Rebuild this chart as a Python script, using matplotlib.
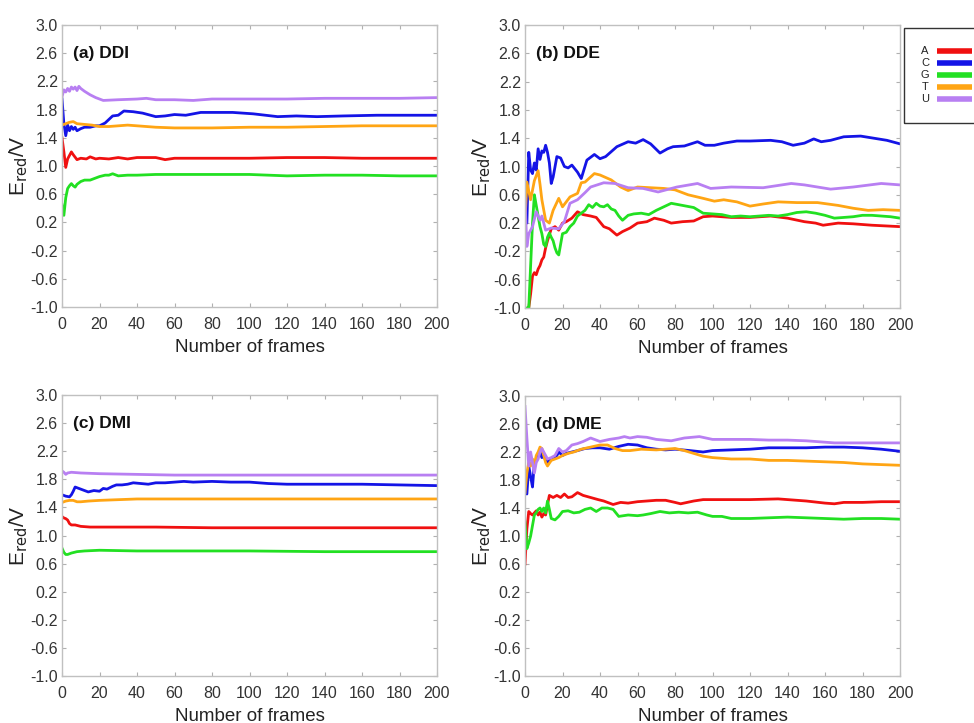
import matplotlib
matplotlib.use("Agg")
import matplotlib.pyplot as plt
from matplotlib.lines import Line2D
from matplotlib.patches import Rectangle

plt.rcParams['font.family'] = ['Liberation Sans', 'DejaVu Sans']

bases = ['A', 'C', 'G', 'T', 'U']
colors = {'A': '#f01010', 'C': '#1414e6', 'G': '#22e022', 'T': '#ffa514', 'U': '#b87ff2'}

# (a) DDI
ddi_A_x = [0,1,2,3,5,6,8,10,13,15,18,20,25,30,35,40,50,55,60,80,100,120,140,160,180,200]
ddi_A_y = [1.40,1.20,0.98,1.10,1.20,1.16,1.09,1.11,1.10,1.13,1.10,1.11,1.10,1.12,1.10,1.12,1.12,1.09,1.11,1.11,1.11,1.12,1.12,1.11,1.11,1.11]
ddi_C_x = [0,1,2,3,4,5,6,7,8,10,12,15,18,20,23,27,30,33,38,43,50,55,60,66,74,80,91,102,115,125,136,150,168,185,200]
ddi_C_y = [1.95,1.60,1.43,1.58,1.50,1.56,1.52,1.55,1.50,1.53,1.55,1.55,1.57,1.57,1.61,1.71,1.72,1.78,1.77,1.75,1.70,1.71,1.73,1.72,1.76,1.76,1.76,1.74,1.70,1.71,1.70,1.71,1.72,1.72,1.72]
ddi_G_x = [0,1,2,3,4,5,6,7,8,10,12,15,18,20,23,25,27,30,35,40,50,60,80,100,120,140,160,180,200]
ddi_G_y = [0.45,0.30,0.55,0.68,0.72,0.75,0.72,0.70,0.74,0.78,0.80,0.80,0.83,0.85,0.87,0.87,0.89,0.86,0.87,0.87,0.88,0.88,0.88,0.88,0.86,0.87,0.87,0.86,0.86]
ddi_T_x = [0,2,4,6,8,12,16,20,25,30,35,40,50,60,80,100,120,140,160,180,200]
ddi_T_y = [1.58,1.60,1.62,1.63,1.60,1.59,1.58,1.56,1.56,1.57,1.58,1.57,1.55,1.54,1.54,1.55,1.55,1.56,1.57,1.57,1.57]
ddi_U_x = [0,1,2,3,4,5,6,7,8,9,10,12,15,18,22,30,40,45,50,60,70,80,100,120,140,160,180,200]
ddi_U_y = [1.98,2.08,2.05,2.10,2.06,2.12,2.09,2.12,2.07,2.13,2.10,2.06,2.01,1.97,1.93,1.94,1.95,1.96,1.94,1.94,1.93,1.95,1.95,1.95,1.96,1.96,1.96,1.97]

# (b) DDE
dde_A_x = [2,3,4,5,6,7,8,9,10,11,12,14,16,18,20,22,25,28,31,35,38,42,45,49,52,56,60,65,69,74,78,84,90,95,100,110,120,131,140,149,155,159,167,175,185,200]
dde_A_y = [-1.00,-0.80,-0.55,-0.50,-0.53,-0.45,-0.40,-0.32,-0.28,-0.15,-0.05,0.12,0.15,0.10,0.20,0.22,0.27,0.36,0.32,0.30,0.28,0.15,0.12,0.03,0.08,0.13,0.20,0.22,0.27,0.24,0.20,0.22,0.23,0.29,0.30,0.28,0.28,0.30,0.27,0.22,0.20,0.17,0.20,0.19,0.17,0.15]
dde_C_x = [0,1,2,3,4,5,6,7,8,9,10,11,12,13,14,15,17,19,21,23,25,28,30,33,37,40,43,46,49,55,59,63,67,72,76,79,85,92,96,101,106,113,120,131,137,143,149,154,158,163,170,179,186,193,200]
dde_C_y = [0.75,0.20,1.20,0.95,0.90,1.05,0.95,1.25,1.10,1.22,1.20,1.30,1.20,1.05,0.76,0.85,1.14,1.12,1.00,0.98,1.02,0.92,0.83,1.09,1.17,1.11,1.14,1.21,1.28,1.35,1.33,1.38,1.32,1.19,1.25,1.28,1.29,1.35,1.30,1.30,1.33,1.36,1.36,1.37,1.35,1.30,1.33,1.39,1.35,1.37,1.42,1.43,1.40,1.37,1.32]
dde_G_x = [1,2,3,4,5,6,7,8,9,10,11,12,13,14,15,16,17,18,19,20,22,24,26,28,30,32,34,36,38,40,42,44,46,48,50,52,55,58,62,66,70,74,78,82,86,90,95,100,105,110,115,120,125,130,135,140,145,150,155,160,165,170,175,180,185,190,195,200]
dde_G_y = [-1.0,-1.0,-0.40,0.20,0.60,0.45,0.30,0.15,0.05,-0.10,-0.13,0.00,0.06,0.00,-0.05,-0.15,-0.22,-0.25,-0.10,0.05,0.07,0.15,0.20,0.30,0.34,0.38,0.46,0.42,0.48,0.44,0.43,0.46,0.40,0.38,0.30,0.24,0.31,0.33,0.34,0.32,0.38,0.43,0.48,0.46,0.44,0.42,0.34,0.33,0.32,0.29,0.30,0.29,0.30,0.31,0.30,0.32,0.35,0.36,0.34,0.31,0.27,0.28,0.29,0.31,0.31,0.30,0.29,0.27]
dde_T_x = [0,1,3,5,7,8,9,11,13,15,18,20,24,28,30,32,37,40,46,51,55,60,67,74,80,87,95,101,106,113,120,127,135,145,156,167,175,183,191,200]
dde_T_y = [0.22,0.78,0.53,0.80,0.94,0.75,0.53,0.24,0.20,0.38,0.55,0.43,0.57,0.62,0.77,0.78,0.90,0.88,0.81,0.71,0.66,0.71,0.70,0.69,0.67,0.60,0.55,0.51,0.53,0.50,0.44,0.47,0.50,0.49,0.49,0.45,0.41,0.38,0.39,0.38]
dde_U_x = [0,1,2,4,6,8,9,11,14,18,21,24,28,32,35,42,48,55,63,71,81,92,99,110,127,142,149,163,175,190,200]
dde_U_y = [0.55,-0.13,0.05,0.15,0.36,0.24,0.30,0.10,0.13,0.12,0.22,0.48,0.53,0.63,0.71,0.77,0.76,0.70,0.69,0.64,0.71,0.76,0.69,0.71,0.70,0.76,0.74,0.68,0.71,0.76,0.74]

# (c) DMI
dmi_A_x = [0,1,2,3,4,5,7,10,15,20,30,50,80,100,130,160,200]
dmi_A_y = [1.27,1.25,1.24,1.22,1.17,1.15,1.15,1.13,1.12,1.12,1.12,1.12,1.11,1.11,1.11,1.11,1.11]
dmi_C_x = [0,2,4,5,6,7,9,11,14,17,20,22,24,27,29,32,35,38,42,46,50,55,60,65,70,80,90,100,110,120,140,160,180,200]
dmi_C_y = [1.58,1.56,1.55,1.58,1.63,1.69,1.67,1.65,1.62,1.64,1.63,1.67,1.66,1.70,1.72,1.72,1.73,1.75,1.74,1.73,1.75,1.75,1.76,1.77,1.76,1.77,1.76,1.76,1.74,1.73,1.73,1.73,1.72,1.71]
dmi_G_x = [0,1,2,3,5,8,12,20,40,60,100,140,200]
dmi_G_y = [0.82,0.76,0.73,0.73,0.75,0.77,0.78,0.79,0.78,0.78,0.78,0.77,0.77]
dmi_T_x = [0,2,4,6,8,10,14,20,30,40,60,100,140,200]
dmi_T_y = [1.47,1.49,1.50,1.50,1.48,1.48,1.49,1.50,1.51,1.52,1.52,1.52,1.52,1.52]
dmi_U_x = [0,1,2,3,5,10,20,40,60,100,150,200]
dmi_U_y = [1.92,1.90,1.87,1.89,1.90,1.89,1.88,1.87,1.86,1.86,1.86,1.86]

# (d) DME
dme_A_x = [0,1,2,3,4,5,6,7,8,9,10,11,12,13,15,17,19,21,23,25,28,31,35,39,42,47,51,55,60,65,70,75,80,83,90,95,110,120,135,150,160,165,170,180,190,200]
dme_A_y = [0.60,1.10,1.35,1.32,1.30,1.33,1.36,1.30,1.34,1.27,1.32,1.30,1.45,1.58,1.55,1.58,1.55,1.60,1.55,1.56,1.62,1.58,1.55,1.52,1.50,1.45,1.48,1.47,1.49,1.50,1.51,1.51,1.48,1.46,1.50,1.52,1.52,1.52,1.53,1.50,1.47,1.46,1.48,1.48,1.49,1.49]
dme_C_x = [0,1,2,3,4,5,6,7,8,9,10,11,12,13,15,17,18,20,22,25,28,32,36,40,45,50,55,60,65,70,75,80,88,95,100,110,120,130,140,150,160,170,180,190,200]
dme_C_y = [1.65,1.60,2.00,1.85,1.70,2.05,2.10,2.15,2.20,2.12,2.15,2.08,2.05,2.08,2.10,2.15,2.20,2.15,2.18,2.20,2.22,2.25,2.26,2.26,2.24,2.28,2.31,2.30,2.26,2.24,2.23,2.24,2.22,2.20,2.22,2.23,2.24,2.26,2.26,2.26,2.27,2.27,2.26,2.24,2.21]
dme_G_x = [0,1,2,3,4,5,6,7,8,9,10,11,12,13,14,16,18,20,23,26,29,32,35,38,41,44,47,50,55,60,63,67,72,77,82,87,92,97,100,105,110,120,130,140,150,160,170,180,190,200]
dme_G_y = [1.20,0.82,0.90,1.00,1.15,1.30,1.33,1.38,1.40,1.35,1.40,1.33,1.50,1.38,1.25,1.23,1.28,1.35,1.36,1.33,1.34,1.38,1.40,1.35,1.40,1.40,1.38,1.28,1.30,1.29,1.30,1.32,1.35,1.33,1.34,1.33,1.34,1.30,1.28,1.28,1.25,1.25,1.26,1.27,1.26,1.25,1.24,1.25,1.25,1.24]
dme_T_x = [0,1,2,3,4,5,6,7,8,9,10,11,12,14,16,18,20,23,26,30,35,40,44,48,52,56,62,70,80,85,90,95,100,110,120,130,140,150,160,170,180,190,200]
dme_T_y = [1.62,1.90,2.05,2.00,2.10,2.02,2.15,2.20,2.27,2.25,2.15,2.05,2.00,2.08,2.10,2.12,2.15,2.18,2.20,2.24,2.27,2.30,2.30,2.25,2.22,2.22,2.24,2.23,2.25,2.22,2.18,2.14,2.12,2.10,2.10,2.08,2.08,2.07,2.06,2.05,2.03,2.02,2.01]
dme_U_x = [0,1,2,3,4,5,6,7,8,9,10,12,14,16,18,20,22,25,28,31,35,40,45,50,53,56,60,65,70,78,85,93,100,110,120,130,140,150,160,165,170,180,190,200]
dme_U_y = [2.85,2.40,2.00,2.20,2.05,1.90,2.05,2.10,2.20,2.25,2.20,2.10,2.12,2.15,2.25,2.20,2.22,2.30,2.32,2.35,2.40,2.35,2.38,2.40,2.42,2.40,2.42,2.41,2.38,2.36,2.40,2.42,2.38,2.38,2.38,2.37,2.37,2.36,2.34,2.33,2.33,2.33,2.33,2.33]

panels = [
    ("(a) DDI", {'A': (ddi_A_x, ddi_A_y), 'C': (ddi_C_x, ddi_C_y), 'G': (ddi_G_x, ddi_G_y), 'T': (ddi_T_x, ddi_T_y), 'U': (ddi_U_x, ddi_U_y)}),
    ("(b) DDE", {'A': (dde_A_x, dde_A_y), 'C': (dde_C_x, dde_C_y), 'G': (dde_G_x, dde_G_y), 'T': (dde_T_x, dde_T_y), 'U': (dde_U_x, dde_U_y)}),
    ("(c) DMI", {'A': (dmi_A_x, dmi_A_y), 'C': (dmi_C_x, dmi_C_y), 'G': (dmi_G_x, dmi_G_y), 'T': (dmi_T_x, dmi_T_y), 'U': (dmi_U_x, dmi_U_y)}),
    ("(d) DME", {'A': (dme_A_x, dme_A_y), 'C': (dme_C_x, dme_C_y), 'G': (dme_G_x, dme_G_y), 'T': (dme_T_x, dme_T_y), 'U': (dme_U_x, dme_U_y)}),
]

W, H = 974, 723
fig = plt.figure(figsize=(W/100, H/100), dpi=100)

# axes boxes in pixels: left, top, right, bottom
boxes = [(62, 25, 437, 307), (525, 25, 900, 308), (62, 395, 437, 676), (525, 396, 900, 676)]
yticks = [-1.0 + 0.4*i for i in range(11)]

for (title, series), (l, t, r, b) in zip(panels, boxes):
    ax = fig.add_axes([l/W, 1 - b/H, (r - l)/W, (b - t)/H])
    for base in bases:
        x, y = series[base]
        ax.plot(x, y, color=colors[base], lw=2.0, solid_joinstyle='round')
    ax.set_xlim(0, 200)
    ax.set_ylim(-1.0, 3.0)
    ax.set_xticks(range(0, 201, 20))
    ax.set_yticks(yticks)
    ax.set_yticklabels(["%.1f" % v for v in yticks])
    ax.tick_params(direction='in', length=3, width=0.8, color='#b0b0b0',
                   labelcolor='#333333', labelsize=11.5, top=True, right=True)
    ax.tick_params(axis='x', pad=7)
    ax.tick_params(axis='y', pad=3)
    for s in ax.spines.values():
        s.set_color('#c0c0c0')
        s.set_linewidth(1.0)
    ax.set_xlabel("Number of frames", fontsize=13.5, color='#222222', labelpad=5)
    ax.set_ylabel(r"E$_{\mathrm{red}}$/V", fontsize=15, color='#222222', labelpad=0)
    ax.text(0.03, 0.90, title, transform=ax.transAxes, fontsize=12.5,
            fontweight='bold', color='#111111', va='center', ha='left')

# legend box (runs off the right edge in the reference)
fig.add_artist(Rectangle((904/W, 1 - 123/H), 90/W, 95/H, transform=fig.transFigure,
                         fill=False, edgecolor='#333333', lw=1.0))
for i, base in enumerate(bases):
    yy = 1 - (51 + 12*i)/H
    fig.text(925/W, yy, base, fontsize=8, color='#222222', ha='center', va='center')
    fig.add_artist(Line2D([937/W, 972/W], [yy, yy], transform=fig.transFigure,
                          color=colors[base], lw=4, solid_capstyle='butt'))

fig.savefig("out.png", dpi=100)
